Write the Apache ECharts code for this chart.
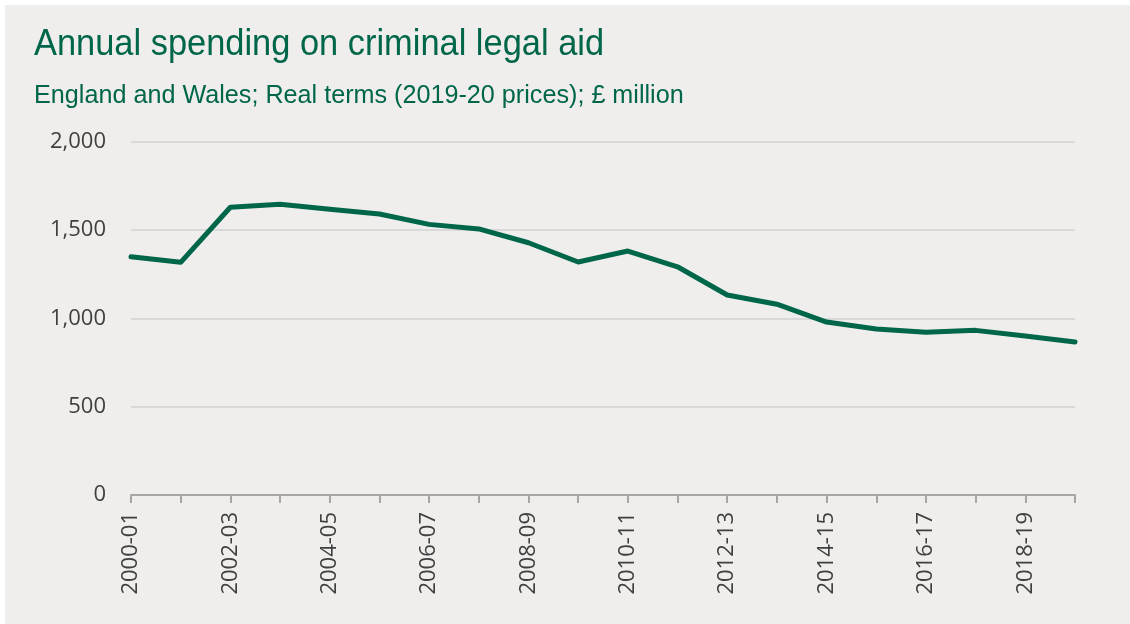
<!DOCTYPE html>
<html>
<head>
<meta charset="utf-8">
<script src="https://cdn.jsdelivr.net/npm/echarts@6/dist/echarts.min.js"></script>
<style>
  html, body { margin: 0; padding: 0; background: #ffffff; }
  #chart { position: absolute; left: 5px; top: 5px; width: 1125px; height: 619px; background: #efeeec; }
</style>
</head>
<body>
<div id="chart"></div>
<script>
// Financial years shown on the x axis
const years = [
  '2000-01', '2001-02', '2002-03', '2003-04', '2004-05',
  '2005-06', '2006-07', '2007-08', '2008-09', '2009-10',
  '2010-11', '2011-12', '2012-13', '2013-14', '2014-15',
  '2015-16', '2016-17', '2017-18', '2018-19', '2019-20'
];

// Criminal legal aid spending, real terms (2019-20 prices), £ million
const spending = [
  1349, 1317, 1629, 1646, 1617,
  1591, 1532, 1506, 1428, 1319,
  1381, 1292, 1132, 1080, 979,
  940, 921, 932, 900, 866
];

const yTicks = [0, 500, 1000, 1500, 2000];

const titleText = 'Annual spending on criminal legal aid';
const subtitleText = 'England and Wales; Real terms (2019-20 prices); \u00A3 million';

const green = '#00664a';
const headFont = "'Liberation Sans', Arial, sans-serif";
const axisFont = "'Open Sans', 'Noto Sans', sans-serif";

const chart = echarts.init(document.getElementById('chart'));
chart.setOption({
  backgroundColor: '#efeeec',
  animation: false,
  // Heading and subheading, slightly condensed horizontally
  graphic: [
    {
      type: 'text',
      x: 29,
      y: 21,
      scaleX: 0.93,
      style: {
        text: titleText,
        font: '37px ' + headFont,
        fill: green,
        verticalAlign: 'top'
      }
    },
    {
      type: 'text',
      x: 29,
      y: 79,
      scaleX: 1.007,
      style: {
        text: subtitleText,
        font: '25px ' + headFont,
        fill: green,
        verticalAlign: 'top'
      }
    }
  ],
  grid: { left: 126, right: 55, top: 136.7, bottom: 129, containLabel: false },
  xAxis: {
    type: 'category',
    data: years,
    boundaryGap: false,
    axisLine: { lineStyle: { color: '#a6a6a6', width: 2 } },
    axisTick: { show: true, interval: 0, length: 8, lineStyle: { color: '#a6a6a6', width: 2 } },
    axisLabel: {
      interval: 1,
      rotate: 90,
      margin: 17,
      fontFamily: axisFont,
      fontSize: 22,
      color: '#404040'
    },
    splitLine: { show: false }
  },
  yAxis: {
    type: 'value',
    min: yTicks[0],
    max: yTicks[yTicks.length - 1],
    interval: yTicks[1] - yTicks[0],
    axisLine: { show: false },
    axisTick: { show: false },
    axisLabel: {
      margin: 25,
      fontFamily: axisFont,
      fontSize: 22,
      color: '#404040',
      formatter: v => v.toLocaleString('en-GB')
    },
    splitLine: { lineStyle: { color: '#d9d9d9', width: 2 } }
  },
  series: [
    {
      type: 'line',
      data: spending,
      showSymbol: false,
      symbol: 'none',
      lineStyle: { color: green, width: 5, join: 'round', cap: 'round' }
    }
  ]
});
</script>
</body>
</html>
